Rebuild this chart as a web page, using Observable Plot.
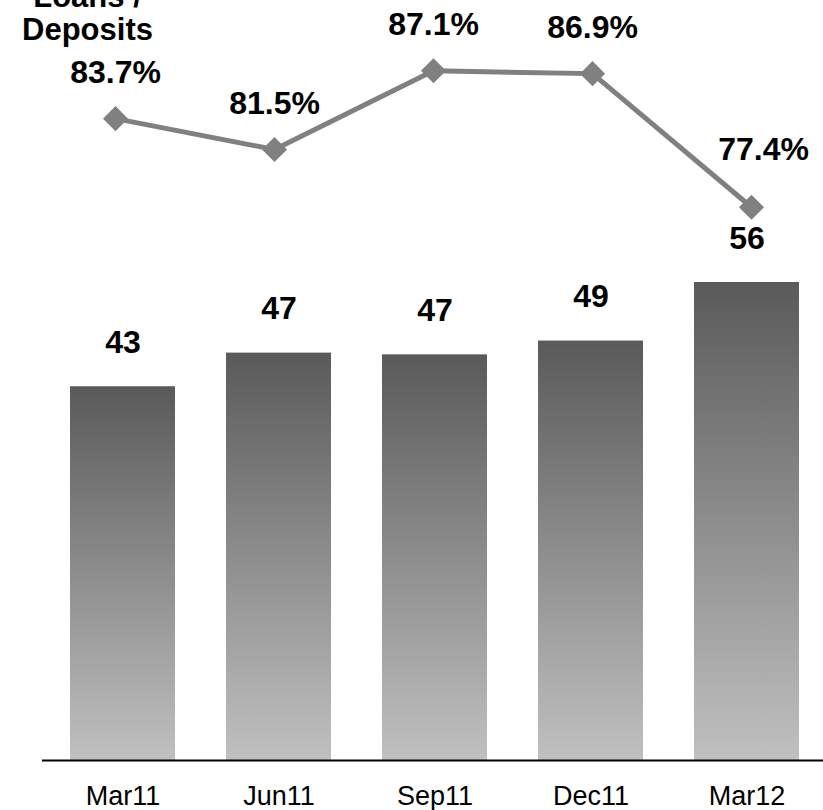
<!DOCTYPE html>
<html>
<head>
<meta charset="utf-8">
<script src="https://cdn.jsdelivr.net/npm/d3@7"></script>
<script src="https://cdn.jsdelivr.net/npm/@observablehq/plot@0.6"></script>
<style>
  html, body { margin: 0; padding: 0; background: #fff; }
  #wrap { position: relative; width: 823px; height: 810px; overflow: hidden; }
  #wrap svg { position: absolute; left: 0; top: 0; }
</style>
</head>
<body>
<div id="wrap"></div>
<script>
const quarters = ["Mar11", "Jun11", "Sep11", "Dec11", "Mar12"];
const loans = [43.4, 47.3, 47.1, 48.7, 55.5];
const ratio = [83.7, 81.5, 87.1, 86.9, 77.4];
const ratioTitle = "Loans /\nDeposits";

const font = "'Liberation Sans', Arial, sans-serif";
const barData = quarters.map((q, i) => ({q, v: loans[i]}));
const lineData = quarters.map((q, i) => ({q, v: ratio[i], last: i === quarters.length - 1}));

const defs = () => {
  const d = d3.create("svg:defs");
  const g = d.append("linearGradient").attr("id", "barGrad")
    .attr("x1", 0).attr("y1", 0).attr("x2", 0).attr("y2", 1);
  g.append("stop").attr("offset", "0%").attr("stop-color", "#5a5a5a");
  g.append("stop").attr("offset", "100%").attr("stop-color", "#c0c0c0");
  return d.node();
};

const bars = Plot.plot({
  width: 823,
  height: 810,
  marginLeft: 42,
  marginRight: 0,
  marginTop: 226,
  marginBottom: 50,
  style: {fontFamily: font, background: "transparent", overflow: "visible"},
  x: {domain: quarters, paddingInner: 0.325, paddingOuter: 0.15, align: 0.55, label: null},
  y: {domain: [0, 62], axis: null},
  marks: [
    defs,
    Plot.barY(barData, {x: "q", y: "v", fill: "url(#barGrad)"}),
    Plot.text(barData, {x: "q", y: "v", text: d => String(Math.round(d.v)), dy: -44,
      fontSize: 32, fontWeight: "bold", fill: "#000"}),
    Plot.ruleY([0], {stroke: "#000", strokeWidth: 2}),
    Plot.axisX({tickSize: 0, tickPadding: 25, fontSize: 27, fill: "#000", label: null})
  ]
});

const line = Plot.plot({
  width: 823,
  height: 810,
  marginLeft: 114,
  marginRight: 72,
  marginTop: 0,
  marginBottom: 585,
  style: {fontFamily: font, background: "transparent"},
  x: {type: "point", domain: quarters, padding: 0, axis: null},
  y: {domain: [76.1, 92.1], axis: null},
  marks: [
    Plot.line(lineData, {x: "q", y: "v", stroke: "#808080", strokeWidth: 5}),
    Plot.dot(lineData, {x: "q", y: "v", symbol: "diamond2", r: 11.3, fill: "#808080", stroke: "none"}),
    Plot.text(lineData.filter(d => !d.last), {x: "q", y: "v", text: d => d.v.toFixed(1) + "%", dy: -46,
      fontSize: 32, fontWeight: "bold", fill: "#000"}),
    Plot.text(lineData.filter(d => d.last), {x: "q", y: "v", text: d => d.v.toFixed(1) + "%", dx: 12, dy: -57,
      fontSize: 32, fontWeight: "bold", fill: "#000"}),
    Plot.text([ratioTitle], {frameAnchor: "top-left", text: d => d, dx: -27, dy: -17, lineAnchor: "top",
      lineHeight: 1.07, textAnchor: "middle", fontSize: 31, fontWeight: "bold", fill: "#000"})
  ]
});

const wrap = document.getElementById("wrap");
wrap.appendChild(bars);
wrap.appendChild(line);
</script>
</body>
</html>
